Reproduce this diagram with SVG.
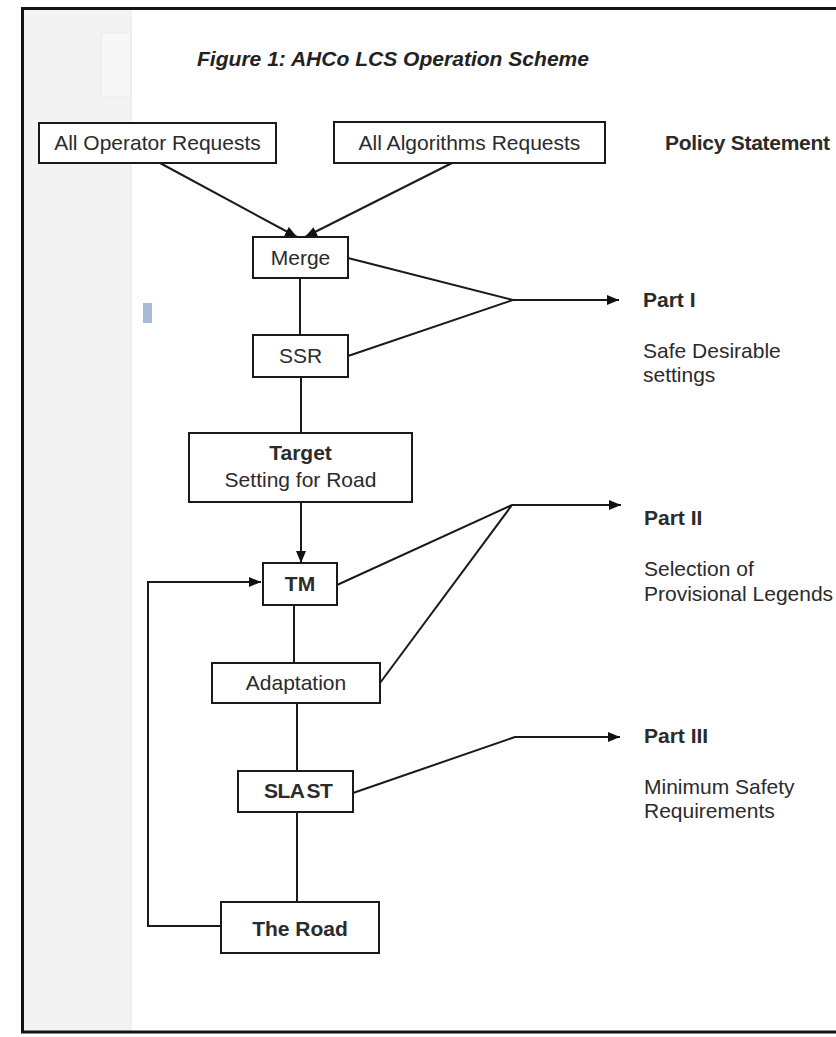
<svg xmlns="http://www.w3.org/2000/svg" width="836" height="1037" viewBox="0 0 836 1037">
<style>
.box{fill:#ffffff;stroke:#1a1a1a;stroke-width:2}
.t{font-family:"Liberation Sans",Arial,sans-serif;font-size:21px;fill:#2b2b2b;text-anchor:middle}
.b{font-weight:bold}
.r{font-family:"Liberation Sans",Arial,sans-serif;font-size:21px;fill:#2b2b2b}
.ln{fill:none;stroke:#1a1a1a;stroke-width:2}
</style>
<defs>
<marker id="ah" markerUnits="userSpaceOnUse" markerWidth="13" markerHeight="11" refX="12" refY="5" orient="auto">
<path d="M0,0 L12,5 L0,10 z" fill="#111"/>
</marker>
</defs>
<rect x="0" y="0" width="836" height="1037" fill="#ffffff"/>
<g id="frame">
<rect x="24" y="9" width="107" height="1022" fill="#f3f3f3"/>
<rect x="101" y="33" width="30" height="64" fill="#f7f7f7" stroke="#ececec" stroke-width="1"/>
<line x1="131" y1="9" x2="131" y2="1031" stroke="#e6e6e6" stroke-width="1"/>
<rect x="143" y="303" width="9" height="20" fill="#a9b9d8"/>
<path d="M836,8.5 L22.5,8.5 L22.5,1032 L836,1032" fill="none" stroke="#141414" stroke-width="3"/>
</g>
<g id="title">
<text x="197" y="66" font-family="'Liberation Sans',Arial,sans-serif" font-size="20" font-weight="bold" font-style="italic" fill="#222" textLength="392" lengthAdjust="spacingAndGlyphs">Figure 1: AHCo LCS Operation Scheme</text>
</g>
<g id="connectors">
<line class="ln" x1="160" y1="163" x2="297" y2="237" marker-end="url(#ah)"/>
<line class="ln" x1="452" y1="163" x2="305" y2="237" marker-end="url(#ah)"/>
<line class="ln" x1="300" y1="278" x2="300" y2="335"/>
<line class="ln" x1="301" y1="377" x2="301" y2="433"/>
<line class="ln" x1="301" y1="502" x2="301" y2="563" marker-end="url(#ah)"/>
<line class="ln" x1="294" y1="605" x2="294" y2="663"/>
<line class="ln" x1="297" y1="703" x2="297" y2="771"/>
<line class="ln" x1="297" y1="812" x2="297" y2="902"/>
<polyline class="ln" points="221,926 148,926 148,582 261,582" marker-end="url(#ah)"/>
<polyline class="ln" points="348,258 513,300 348,356"/>
<line class="ln" x1="513" y1="300" x2="619" y2="300" marker-end="url(#ah)"/>
<polyline class="ln" points="337,585 512,505 380,683"/>
<line class="ln" x1="512" y1="505" x2="621" y2="505" marker-end="url(#ah)"/>
<polyline class="ln" points="353,793 515,737 620,737" marker-end="url(#ah)"/>
</g>
<g id="operator">
<rect class="box" x="39" y="123" width="237" height="40"/>
<text class="t" x="157.5" y="150">All Operator Requests</text>
</g>
<g id="algorithms">
<rect class="box" x="334" y="122" width="271" height="41"/>
<text class="t" x="469.5" y="150">All Algorithms Requests</text>
</g>
<g id="policy">
<text class="r b" x="665" y="150" font-size="20" textLength="165">Policy Statement</text>
</g>
<g id="merge">
<rect class="box" x="253" y="237" width="95" height="41"/>
<text class="t" x="300.5" y="265">Merge</text>
</g>
<g id="ssr">
<rect class="box" x="253" y="335" width="95" height="42"/>
<text class="t" x="300.5" y="363">SSR</text>
</g>
<g id="target">
<rect class="box" x="189" y="433" width="223" height="69"/>
<text class="t b" x="300.5" y="460">Target</text>
<text class="t" x="300.5" y="487">Setting for Road</text>
</g>
<g id="tm">
<rect class="box" x="263" y="563" width="74" height="42"/>
<text class="t b" x="300" y="591" font-size="20">TM</text>
</g>
<g id="adaptation">
<rect class="box" x="212" y="663" width="168" height="40"/>
<text class="t" x="296" y="690">Adaptation</text>
</g>
<g id="slast">
<rect class="box" x="238" y="771" width="115" height="41"/>
<text class="r b" x="264" y="798" font-size="18" letter-spacing="-0.5">SLA<tspan dx="2">ST</tspan></text>
</g>
<g id="road">
<rect class="box" x="221" y="902" width="158" height="51"/>
<text class="t b" x="300" y="936" font-size="25">The Road</text>
</g>
<g id="part1">
<text class="r b" x="643" y="307" font-size="19">Part I</text>
<text class="r" x="643" y="358">Safe Desirable</text>
<text class="r" x="643" y="382">settings</text>
</g>
<g id="part2">
<text class="r b" x="644" y="525" font-size="19">Part II</text>
<text class="r" x="644" y="576">Selection of</text>
<text class="r" x="644" y="601">Provisional Legends</text>
</g>
<g id="part3">
<text class="r b" x="644" y="743" font-size="19">Part III</text>
<text class="r" x="644" y="794">Minimum Safety</text>
<text class="r" x="644" y="818">Requirements</text>
</g>
</svg>
